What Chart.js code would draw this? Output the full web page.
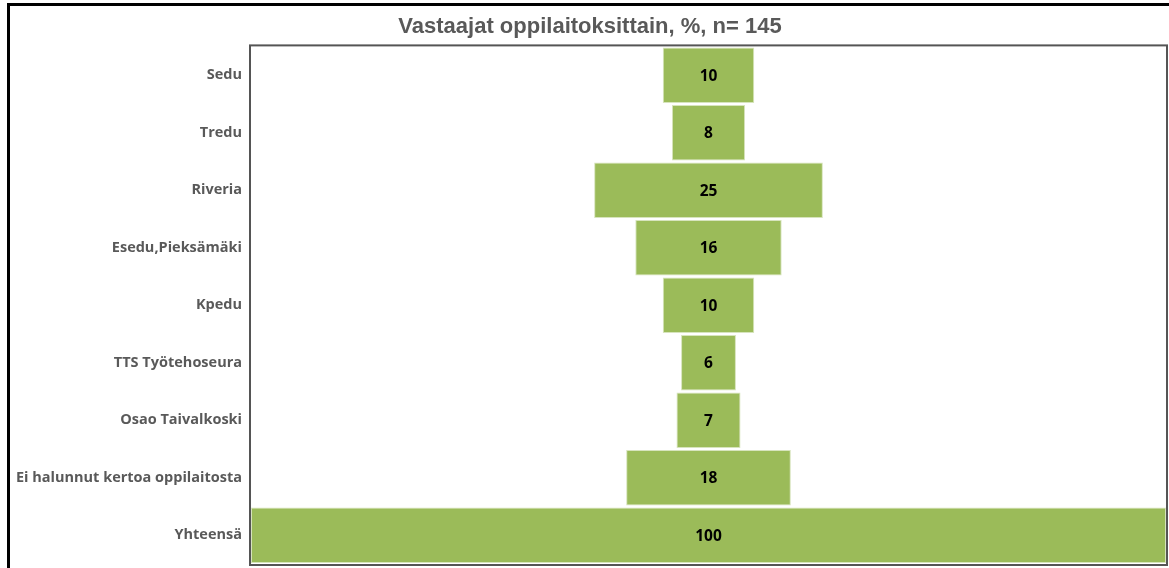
<!DOCTYPE html>
<html>
<head>
<meta charset="utf-8">
<script src="https://cdn.jsdelivr.net/npm/chart.js@4"></script>
<style>
  html, body { margin: 0; padding: 0; background: #fff; overflow: hidden; }
  #wrap { width: 1169px; height: 568px; position: relative; }
  canvas { display: block; }
</style>
</head>
<body>
<div id="wrap"><canvas id="chart" width="1169" height="568"></canvas></div>
<script>
const oppilaitokset = ['Sedu', 'Tredu', 'Riveria', 'Esedu,Pieksämäki', 'Kpedu',
  'TTS Työtehoseura', 'Osao Taivalkoski', 'Ei halunnut kertoa oppilaitosta', 'Yhteensä'];
const osuudet = [10, 8, 25, 16, 10, 6, 7, 18, 100];
const otsikko = 'Vastaajat oppilaitoksittain, %, n= 145';

// ulkokehys
const kehys = {
  id: 'kehys',
  beforeDraw(chart) {
    const ctx = chart.ctx;
    ctx.save();
    ctx.strokeStyle = '#000';
    ctx.lineWidth = 3;
    ctx.beginPath();
    ctx.moveTo(8.5, 600);
    ctx.lineTo(8.5, 4.5);
    ctx.lineTo(1200, 4.5);
    ctx.stroke();
    ctx.restore();
  },
  afterDraw(chart) {
    const { ctx, chartArea: a } = chart;
    ctx.save();
    ctx.strokeStyle = '#555';
    ctx.lineWidth = 2;
    ctx.strokeRect(a.left - 1, a.top - 1, a.right - a.left + 2, a.bottom - a.top + 2);
    ctx.restore();
  }
};

// arvot palkkien keskelle
const arvot = {
  id: 'arvot',
  afterDatasetsDraw(chart) {
    const ctx = chart.ctx;
    const meta = chart.getDatasetMeta(0);
    ctx.save();
    ctx.font = 'bold 15.5px "Open Sans", sans-serif';
    ctx.fillStyle = '#000';
    ctx.textAlign = 'center';
    ctx.textBaseline = 'middle';
    meta.data.forEach((bar, i) => {
      const p = bar.getProps(['x', 'base', 'y'], true);
      ctx.fillText(osuudet[i], (p.x + p.base) / 2, p.y + 1);
    });
    ctx.restore();
  }
};

new Chart(document.getElementById('chart'), {
  type: 'bar',
  data: {
    labels: oppilaitokset,
    datasets: [{
      data: osuudet.map(v => [-v / 2, v / 2]),
      backgroundColor: '#9BBB59',
      borderColor: '#D7E4BD',
      borderWidth: 1,
      borderSkipped: false,
      barPercentage: 0.965,
      categoryPercentage: 1
    }]
  },
  options: {
    indexAxis: 'y',
    responsive: false,
    animation: false,
    layout: { padding: { left: 14, right: 3, bottom: 4, top: 0 } },
    plugins: {
      legend: { display: false },
      tooltip: { enabled: false },
      title: {
        display: true,
        text: otsikko,
        color: '#595959',
        font: { family: '"Liberation Sans", Arial, sans-serif', size: 22, weight: 'bold' },
        padding: { top: 14, bottom: 6 }
      }
    },
    scales: {
      x: {
        display: false,
        min: -50,
        max: 50
      },
      y: {
        grid: { display: false, drawTicks: false },
        border: { display: false },
        ticks: {
          color: '#595959',
          padding: 9,
          font: { family: '"Open Sans", sans-serif', size: 14.5, weight: 'bold' }
        },
        afterFit(scale) {
          scale.width = 237;
          // ei ylimääräistä tilaa ylä- ja alareunaan
          scale.paddingTop = 0;
          scale.paddingBottom = 0;
        }
      }
    }
  },
  plugins: [kehys, arvot]
});
</script>
</body>
</html>
